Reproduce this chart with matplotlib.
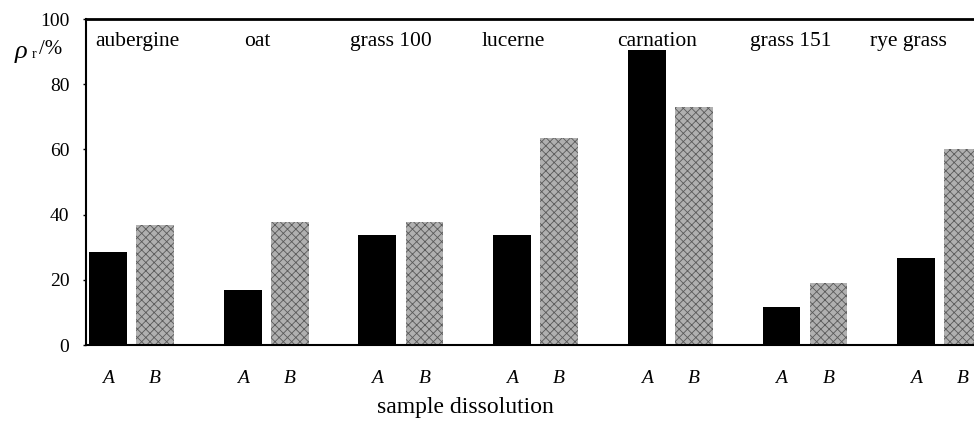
import matplotlib
matplotlib.use("Agg")
import matplotlib.pyplot as plt
import numpy as np

plt.rcParams['font.family'] = ['Liberation Serif', 'DejaVu Serif']
plt.rcParams['hatch.linewidth'] = 0.6

samples = ["aubergine", "oat", "grass 100", "lucerne", "carnation", "grass 151", "rye grass"]
dissolution_a = [28.5, 16.9, 33.7, 33.7, 90.5, 11.7, 26.7]
dissolution_b = [36.8, 37.7, 37.7, 63.5, 73.0, 19.0, 60.0]
yticks = [0, 20, 40, 60, 80, 100]

# where the sample names sit, relative to each group's A bar
name_offset = [0.22, 0.11, 0.10, 0.01, 0.08, 0.07, -0.06]

fig = plt.figure(figsize=(9.74, 4.23), dpi=100)
ax = fig.add_axes([0.0883, 0.184, 0.9117, 0.771])

x = np.arange(len(samples))
w = 0.28
ax.bar(x, dissolution_a, width=w, color="black")
ax.bar(x + 0.35, dissolution_b, width=w, color="#b0b0b0", hatch="xxxx",
       edgecolor="#5a5a5a", linewidth=0)

for i, name in enumerate(samples):
    ax.text(x[i] + name_offset[i], 96, name, ha="center", va="top", fontsize=15.5)
    ax.text(x[i], -7.5, "A", ha="center", va="top", fontsize=14, style="italic")
    ax.text(x[i] + 0.35, -7.5, "B", ha="center", va="top", fontsize=14, style="italic")

ax.set_xlim(-0.163, 6.43)
ax.set_ylim(0, 100)
ax.set_yticks(yticks)
ax.set_yticklabels([str(t) for t in yticks], fontsize=14)
ax.set_xticks([])
ax.tick_params(axis="y", length=2, width=1, pad=10)

ax.spines["right"].set_visible(False)
ax.spines["top"].set_linewidth(2)
ax.spines["left"].set_linewidth(1.5)
ax.spines["bottom"].set_linewidth(1.5)

fig.text(0.022, 0.878, "ρ", fontsize=19, style="italic", ha="center", va="center")
fig.text(0.033, 0.872, "r", fontsize=10, ha="left", va="center")
fig.text(0.040, 0.884, "/%", fontsize=15, ha="left", va="center")

fig.text(0.478, 0.012, "sample dissolution", fontsize=17, ha="center", va="bottom")

fig.savefig("out.png", dpi=100)
